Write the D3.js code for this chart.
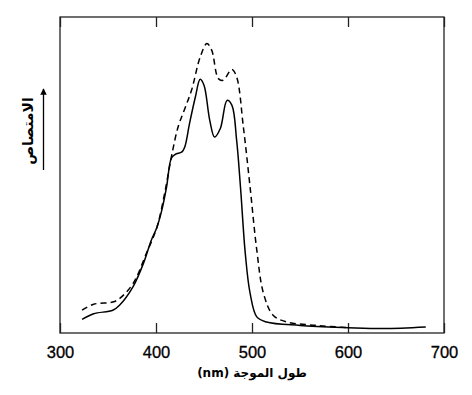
<!DOCTYPE html>
<html>
<head>
<meta charset="utf-8">
<script src="https://cdn.jsdelivr.net/npm/d3@7"></script>
<style>
  body { margin: 0; background: #fff; }
  svg { display: block; }
</style>
</head>
<body>
<div id="chart"></div>
<script>
// solid curve (wavelength nm, relative absorbance)
const solidNm = [323, 335, 355, 362, 376, 387, 395, 401, 406, 411, 416, 420, 427, 430, 435, 441, 446, 450, 456, 461, 467, 474, 479, 484, 488, 493, 498, 505, 515, 550, 600, 637, 681];
const solidAbs = [0.043, 0.061, 0.072, 0.088, 0.146, 0.221, 0.293, 0.335, 0.388, 0.462, 0.553, 0.565, 0.573, 0.589, 0.664, 0.747, 0.803, 0.784, 0.673, 0.620, 0.647, 0.736, 0.721, 0.610, 0.462, 0.252, 0.126, 0.051, 0.035, 0.024, 0.017, 0.014, 0.019];

// dashed curve
const dashedNm = [323, 335, 355, 362, 376, 390, 401, 409, 416, 423, 430, 437, 446, 453, 458, 465, 470, 479, 484, 491, 498, 505, 512, 522, 536, 567, 600];
const dashedAbs = [0.072, 0.091, 0.098, 0.109, 0.156, 0.252, 0.335, 0.442, 0.557, 0.652, 0.710, 0.768, 0.873, 0.916, 0.895, 0.805, 0.800, 0.834, 0.810, 0.652, 0.462, 0.262, 0.125, 0.056, 0.035, 0.024, 0.017];

const xTicks = [300, 400, 500, 600, 700];

const width = 472, height = 395;
const margin = { top: 17, right: 28, bottom: 62, left: 60 };
const w = width - margin.left - margin.right;
const h = height - margin.top - margin.bottom;

const svg = d3.select("#chart").append("svg")
  .attr("width", width)
  .attr("height", height);

const g = svg.append("g")
  .attr("transform", `translate(${margin.left},${margin.top})`);

const x = d3.scaleLinear().domain([300, 700]).range([0, w]);
const y = d3.scaleLinear().domain([0, 1]).range([h, 0]);

// frame
g.append("rect")
  .attr("width", w)
  .attr("height", h)
  .attr("fill", "none")
  .attr("stroke", "#222")
  .attr("stroke-width", 1.3);

// bottom axis, inward ticks
const xAxis = g.append("g")
  .attr("transform", `translate(0,${h})`)
  .call(d3.axisBottom(x).tickValues(xTicks).tickSizeInner(-10).tickSizeOuter(0).tickPadding(13));
xAxis.select(".domain").remove();
xAxis.selectAll("line").attr("stroke", "#222").attr("stroke-width", 1.3);
xAxis.selectAll("text")
  .attr("fill", "#000")
  .style("font-family", "'Liberation Sans', Arial, sans-serif")
  .style("font-size", "16.5px")
  .style("stroke", "#000")
  .style("stroke-width", 0.3);

// top axis ticks
const xTop = g.append("g")
  .call(d3.axisTop(x).tickValues(xTicks).tickSizeInner(-10).tickSizeOuter(0).tickFormat(""));
xTop.select(".domain").remove();
xTop.selectAll("line").attr("stroke", "#222").attr("stroke-width", 1.3);

const line = d3.line()
  .x((d) => x(d[0]))
  .y((d) => y(d[1]))
  .curve(d3.curveCatmullRom.alpha(0.5));

const solid = solidNm.map((v, i) => [v, solidAbs[i]]);
const dashed = dashedNm.map((v, i) => [v, dashedAbs[i]]);

g.append("path")
  .datum(dashed)
  .attr("d", line)
  .attr("fill", "none")
  .attr("stroke", "#000")
  .attr("stroke-width", 1.5)
  .attr("stroke-dasharray", "6,4");

g.append("path")
  .datum(solid)
  .attr("d", line)
  .attr("fill", "none")
  .attr("stroke", "#000")
  .attr("stroke-width", 1.5);

// x title
svg.append("text")
  .attr("x", margin.left + w / 2)
  .attr("y", 377)
  .attr("text-anchor", "middle")
  .attr("direction", "rtl")
  .style("font-family", "'DejaVu Sans', sans-serif")
  .style("font-size", "12px")
  .style("font-weight", "bold")
  .text("طول الموجة (nm)");

// y label with arrow
svg.append("defs").append("marker")
  .attr("id", "arrow")
  .attr("viewBox", "0 0 10 10")
  .attr("refX", 9)
  .attr("refY", 5)
  .attr("markerWidth", 5)
  .attr("markerHeight", 5)
  .attr("orient", "auto")
  .append("path")
  .attr("d", "M0,0 L10,5 L0,10 z")
  .attr("fill", "#000");

svg.append("line")
  .attr("x1", 43.5)
  .attr("x2", 43.5)
  .attr("y1", 170)
  .attr("y2", 89)
  .attr("stroke", "#000")
  .attr("stroke-width", 1.3)
  .attr("marker-end", "url(#arrow)");

svg.append("text")
  .attr("transform", "translate(33,131) rotate(-90)")
  .attr("text-anchor", "middle")
  .attr("direction", "rtl")
  .style("font-family", "'DejaVu Sans', sans-serif")
  .style("font-size", "14px")
  .style("font-weight", "bold")
  .text("الامتصاص");
</script>
</body>
</html>
